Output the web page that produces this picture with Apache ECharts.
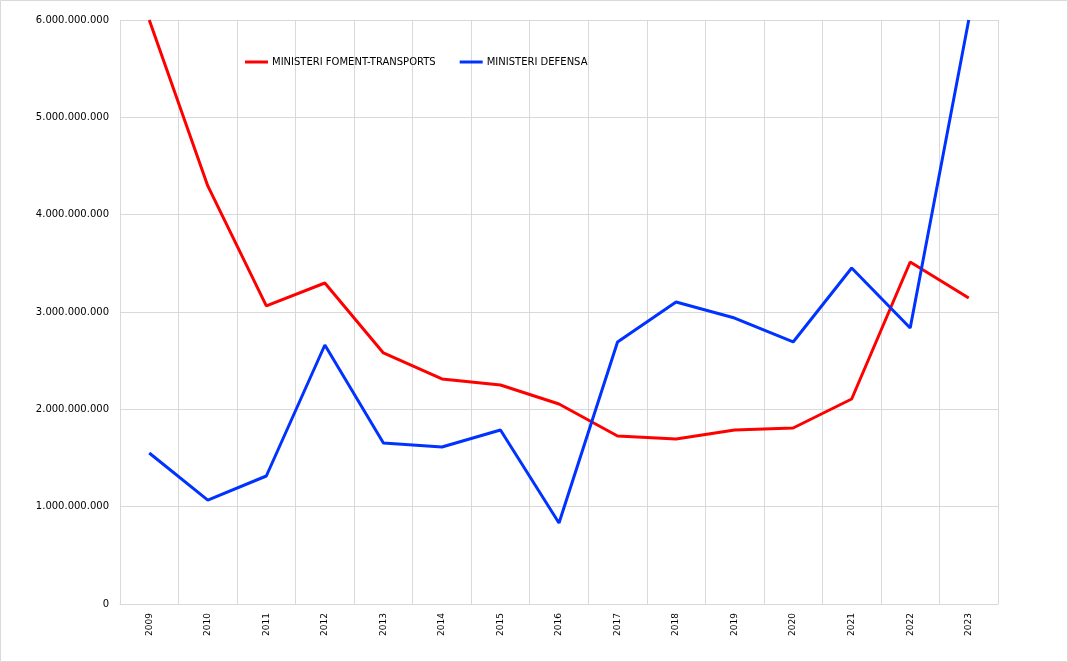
<!DOCTYPE html>
<html><head><meta charset="utf-8">
<script src="https://cdn.jsdelivr.net/npm/echarts@6/dist/echarts.min.js"></script>
<style>html,body{margin:0;padding:0;background:#fff}#c{width:1068px;height:662px}</style>
</head><body><div id="c"></div>
<script>
const years = ['2009','2010','2011','2012','2013','2014','2015','2016','2017','2018','2019','2020','2021','2022','2023'];
const foment = [6.0e9, 4.295e9, 3.062e9, 3.298e9, 2.579e9, 2.312e9, 2.25e9, 2.055e9, 1.726e9, 1.695e9, 1.788e9, 1.808e9, 2.106e9, 3.514e9, 3.144e9];
const defensa = [1.551e9, 1.068e9, 1.315e9, 2.661e9, 1.654e9, 1.613e9, 1.788e9, 0.832e9, 2.692e9, 3.103e9, 2.938e9, 2.692e9, 3.452e9, 2.836e9, 6.0e9];
const seriesNames = ['MINISTERI FOMENT-TRANSPORTS', 'MINISTERI DEFENSA'];
const yTicks = {min: 0, max: 6e9, interval: 1e9};

function fmt(v){ return String(Math.round(v)).replace(/\B(?=(\d{3})+(?!\d))/g, '.'); }

const chart = echarts.init(document.getElementById('c'), null, {renderer:'canvas'});
const F = 'DejaVu Sans';
chart.setOption({
  animation: false,
  backgroundColor: '#fff',
  graphic: [{type:'rect', shape:{x:0.5,y:0.5,width:1067,height:661}, style:{fill:'none', stroke:'#d9d9d9', lineWidth:1}}],
  grid: {left:120, right:70, top:20, bottom:58, containLabel:false},
  legend: {
    left: 240, top: 52,
    itemWidth: 23, itemHeight: 3, itemGap: 24,
    icon: 'rect',
    textStyle: {fontFamily: F, fontSize: 10, color:'#000', padding:[0,0,0,-1]},
    data: seriesNames
  },
  xAxis: {
    type: 'category', data: years, boundaryGap: true,
    axisLine: {show:true, lineStyle:{color:'#d9d9d9', width:1}},
    axisTick: {show:false},
    axisLabel: {rotate: 90, fontFamily: F, fontSize: 9, color:'#000', margin: 9, interval:0},
    splitLine: {show:true, showMinLine:true, showMaxLine:true, interval:0, lineStyle:{color:'#d9d9d9', width:1}}
  },
  yAxis: {
    type: 'value', min: yTicks.min, max: yTicks.max, interval: yTicks.interval,
    axisLine: {show:false},
    axisTick: {show:false},
    axisLabel: {fontFamily: F, fontSize: 10, color:'#000', margin: 11, formatter: fmt},
    splitLine: {show:true, lineStyle:{color:'#d9d9d9', width:1}}
  },
  series: [
    {name: seriesNames[0], type:'line', data: foment, symbol:'none', color:'#ff0000', lineStyle:{width:3, color:'#ff0000'}, clip:true},
    {name: seriesNames[1], type:'line', data: defensa, symbol:'none', color:'#0033ff', lineStyle:{width:3, color:'#0033ff'}, clip:true}
  ]
});
</script></body></html>
